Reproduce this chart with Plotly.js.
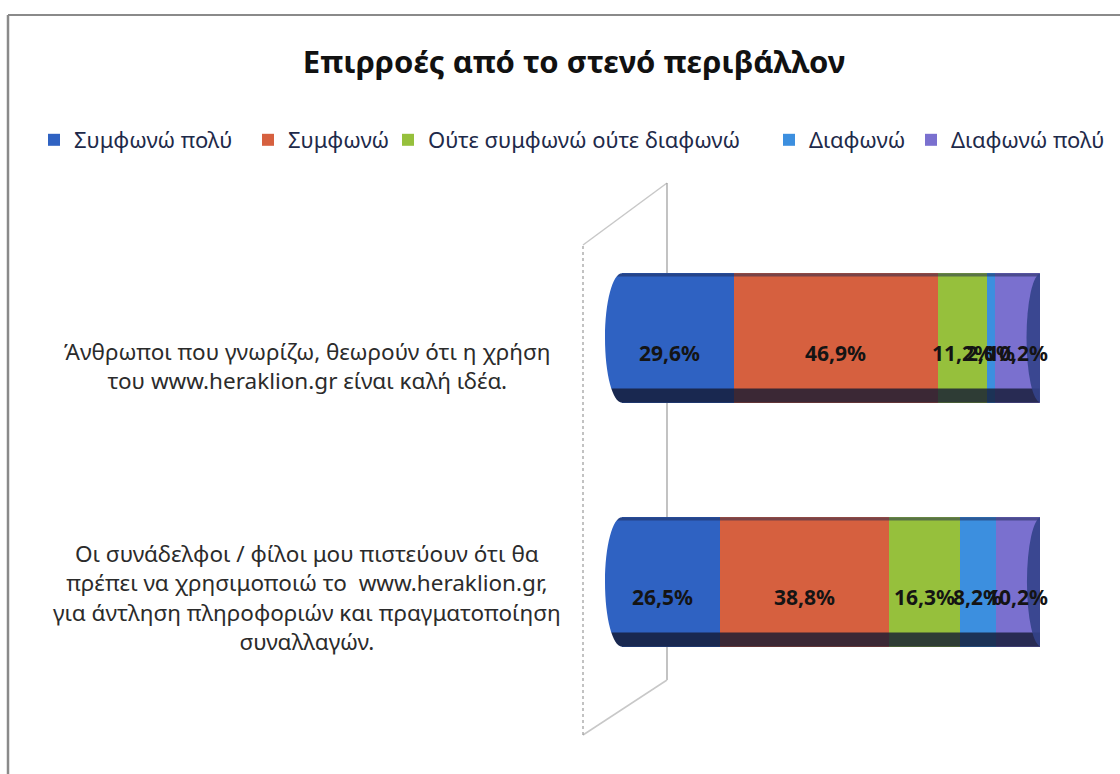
<!DOCTYPE html>
<html>
<head>
<meta charset="utf-8">
<script src="https://cdn.plot.ly/plotly-3.0.1.min.js"></script>
<style>html,body{margin:0;padding:0;background:#fff;}#chart{width:1120px;height:774px;}</style>
</head>
<body>
<div id="chart"></div>
<script>
// ---- data ----
const categories = [
  "Άνθρωποι που γνωρίζω, θεωρούν ότι η χρήση<br>του www.heraklion.gr είναι καλή ιδέα.",
  "Οι συνάδελφοι / φίλοι μου πιστεύουν ότι θα<br>πρέπει να χρησιμοποιώ το  www.heraklion.gr,<br>για άντληση πληροφοριών και πραγματοποίηση<br>συναλλαγών."
];
const seriesNames = ["Συμφωνώ πολύ", "Συμφωνώ", "Ούτε συμφωνώ ούτε διαφωνώ", "Διαφωνώ", "Διαφωνώ πολύ"];
const agreeMuch    = [29.6, 26.5];
const agree        = [46.9, 38.8];
const neutral      = [11.2, 16.3];
const disagree     = [2.0, 8.2];
const disagreeMuch = [10.2, 10.2];
const chartTitle = "Επιρροές από το στενό περιβάλλον";

// ---- style ----
const colors = ["#2F62C2", "#D6603F", "#96C03C", "#3C8FDF", "#7A70CF"];
const FONT = "Noto Sans, Open Sans, DejaVu Sans, sans-serif";
const W = 1120, H = 774;
const M = {l: 605, r: 80, t: 216, b: 70, autoexpand: false};
const PW = W - M.l - M.r, PH = H - M.t - M.b;
const barWidth = 0.53;
const labelShift = [-28, -15];
const valueShift = -15;
const legendMarkerX = [48, 262, 402, 783, 925];
const px = x => (x - M.l) / PW;
const py = y => (H - M.b - y) / PH;
const fmt = v => v.toFixed(1).replace(".", ",") + "%";

const series = [agreeMuch, agree, neutral, disagree, disagreeMuch];
const catIdx = categories.map((c, i) => i);
const legendId = s => (s === 0 ? "legend" : "legend" + (s + 1));

const traces = series.map((vals, s) => ({
  type: "bar",
  orientation: "h",
  name: seriesNames[s],
  legend: legendId(s),
  x: vals,
  y: catIdx,
  width: barWidth,
  marker: {color: colors[s], line: {width: 0}},
  hoverinfo: "skip"
}));

// value labels, placed at the segment centres computed from the data
const annotations = [];
catIdx.forEach(i => {
  let cum = 0;
  series.forEach((vals, s) => {
    annotations.push({xref: "x", yref: "y", x: cum + vals[i] / 2, y: i, yshift: valueShift,
      text: fmt(vals[i]), showarrow: false, xanchor: "center", yanchor: "middle",
      font: {family: FONT, size: 21, color: "#141414", weight: "bold"}});
    cum += vals[i];
  });
});
// category labels
catIdx.forEach(i => annotations.push({
  xref: "paper", yref: "y", x: px(307), y: i, yshift: labelShift[i],
  text: categories[i], showarrow: false, xanchor: "center", yanchor: "middle", align: "center",
  font: {family: FONT, size: 22.5, color: "#2b2b2b"}
}));

// cylinder shading shapes derived from data
const totals = catIdx.map(i => series.reduce((a, s) => a + s[i], 0));
const shapes = [];
const k = 0.5523, a = 3.9;
catIdx.forEach(i => {
  const top = i - barWidth / 2, bot = i + barWidth / 2, mid = i;
  shapes.push({type: "rect", xref: "x", yref: "y", layer: "above",
    x0: 0, x1: totals[i], y0: i + barWidth / 2 * 0.78, y1: bot,
    fillcolor: "#141a33", opacity: 0.8, line: {width: 0}});
  shapes.push({type: "rect", xref: "x", yref: "y", layer: "above",
    x0: 0, x1: totals[i], y0: top, y1: i - barWidth / 2 * 0.95,
    fillcolor: "#1c2550", opacity: 0.5, line: {width: 0}});
  shapes.push({type: "circle", xref: "x", yref: "y", layer: "above",
    x0: totals[i] - 3.0, x1: totals[i] + 3.6, y0: top, y1: bot,
    fillcolor: "#33428a", opacity: 0.9, line: {width: 0}});
  // rounded left end: white corner pieces
  shapes.push({type: "path", xref: "x", yref: "y", layer: "above", fillcolor: "#ffffff", line: {width: 0},
    path: `M -1,${top - 0.01} L ${a},${top - 0.01} L ${a},${top} C ${a - k * a},${top} 0,${mid - k * (mid - top)} 0,${mid} L -1,${mid} Z`});
  shapes.push({type: "path", xref: "x", yref: "y", layer: "above", fillcolor: "#ffffff", line: {width: 0},
    path: `M -1,${bot + 0.01} L ${a},${bot + 0.01} L ${a},${bot} C ${a - k * a},${bot} 0,${mid + k * (bot - mid)} 0,${mid} L -1,${mid} Z`});
});
// 3D wall outline
const wall = [[583, 245], [667, 183], [667, 680], [583, 735]];
const wallStyle = [
  {color: "#c8c8c8", width: 1.5}, {color: "#9a9a9a", width: 1.2},
  {color: "#c8c8c8", width: 1.5}, {color: "#9a9a9a", width: 1.2, dash: "dot"}];
wall.forEach((p, j) => {
  const q = wall[(j + 1) % wall.length];
  shapes.push({type: "line", xref: "paper", yref: "paper", layer: "below",
    x0: px(p[0]), y0: py(p[1]), x1: px(q[0]), y1: py(q[1]), line: wallStyle[j]});
});
// outer chart border
shapes.push({type: "line", xref: "paper", yref: "paper", x0: px(8), y0: py(15), x1: px(1125), y1: py(15), line: {color: "#8a8a8a", width: 2}});
shapes.push({type: "line", xref: "paper", yref: "paper", x0: px(8), y0: py(15), x1: px(8), y1: py(780), line: {color: "#8a8a8a", width: 2.5}});

const layout = {
  width: W, height: H,
  margin: M,
  paper_bgcolor: "#ffffff", plot_bgcolor: "rgba(0,0,0,0)",
  barmode: "stack",
  showlegend: true,
  title: {text: chartTitle, x: 574 / W, xanchor: "center", y: 1 - 62 / H, yanchor: "middle",
    font: {family: FONT, size: 31, color: "#111", weight: "bold"}},
  xaxis: {range: [0, 100], visible: false, fixedrange: true},
  yaxis: {type: "linear", range: [1.5, -0.5], visible: false, fixedrange: true},
  shapes: shapes,
  annotations: annotations
};
series.forEach((vals, s) => {
  layout[legendId(s)] = {orientation: "h", x: px(legendMarkerX[s] - 14), xanchor: "left",
    y: py(140), yanchor: "middle", font: {family: FONT, size: 22, color: "#1e2a4a"},
    itemwidth: 30, bgcolor: "rgba(0,0,0,0)"};
});

Plotly.newPlot("chart", traces, layout, {displayModeBar: false, staticPlot: true});
</script>
</body>
</html>
